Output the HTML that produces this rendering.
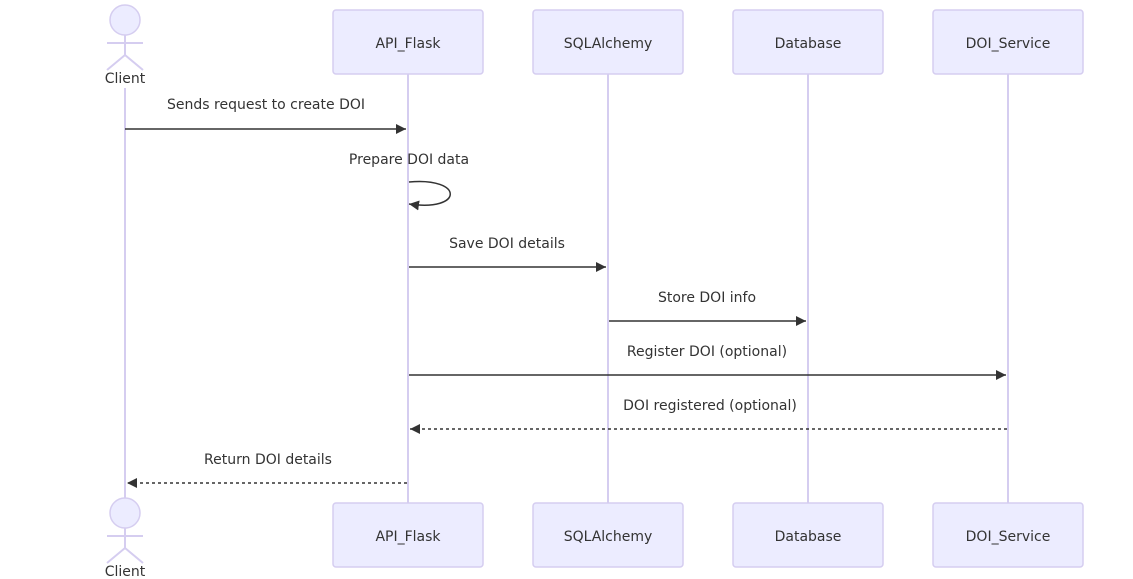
<!DOCTYPE html>
<html><head><style>body{margin:0;background:#fff}svg{display:block}text{font-family:"Trebuchet MS","DejaVu Sans","Liberation Sans",sans-serif;font-size:14px;fill:#333}</style></head>
<body>
<svg width="1133" height="579" viewBox="0 0 1133 579" xmlns="http://www.w3.org/2000/svg">
<defs>
<marker id="a" markerWidth="12" markerHeight="12" refX="10" refY="5" orient="auto" markerUnits="userSpaceOnUse"><path d="M0,0 L10,5 L0,10 z" fill="#333"/></marker>
</defs>
<g stroke="#d5cdf0" stroke-width="2">
<line x1="125" y1="88" x2="125" y2="498"/>
<line x1="408" y1="74" x2="408" y2="503"/>
<line x1="608" y1="74" x2="608" y2="503"/>
<line x1="808" y1="74" x2="808" y2="503"/>
<line x1="1008" y1="74" x2="1008" y2="503"/>
</g>
<g fill="#ECECFF" stroke="#d5cdf0" stroke-width="1.5">
<rect x="333" y="10" width="150" height="64" rx="3"/><rect x="533" y="10" width="150" height="64" rx="3"/><rect x="733" y="10" width="150" height="64" rx="3"/><rect x="933" y="10" width="150" height="64" rx="3"/>
<rect x="333" y="503" width="150" height="64" rx="3"/><rect x="533" y="503" width="150" height="64" rx="3"/><rect x="733" y="503" width="150" height="64" rx="3"/><rect x="933" y="503" width="150" height="64" rx="3"/>
<circle cx="125" cy="20" r="15"/><circle cx="125" cy="513" r="15"/>
</g>
<g stroke="#d5cdf0" stroke-width="2" fill="none">
<path d="M125,35 V55 M107,43 H143 M107,70 L125,55 L143,70"/>
<path d="M125,528 V548 M107,536 H143 M107,563 L125,548 L143,563"/>
</g>
<g text-anchor="middle">
<text x="125" y="83">Client</text><text x="125" y="576">Client</text>
<text x="408" y="48">API_Flask</text><text x="608" y="48">SQLAlchemy</text><text x="808" y="48">Database</text><text x="1008" y="48">DOI_Service</text>
<text x="408" y="541">API_Flask</text><text x="608" y="541">SQLAlchemy</text><text x="808" y="541">Database</text><text x="1008" y="541">DOI_Service</text>
<text x="266" y="109">Sends request to create DOI</text>
<text x="409" y="164">Prepare DOI data</text>
<text x="507" y="248">Save DOI details</text>
<text x="707" y="302">Store DOI info</text>
<text x="707" y="356">Register DOI (optional)</text>
<text x="710" y="410">DOI registered (optional)</text>
<text x="268" y="464">Return DOI details</text>
</g>
<g stroke="#333" stroke-width="1.5" fill="none">
<line x1="125" y1="129" x2="406" y2="129" marker-end="url(#a)"/>
<path d="M409,182 C464,177 464,212 409,204" marker-end="url(#a)"/>
<line x1="409" y1="267" x2="606" y2="267" marker-end="url(#a)"/>
<line x1="609" y1="321" x2="806" y2="321" marker-end="url(#a)"/>
<line x1="409" y1="375" x2="1006" y2="375" marker-end="url(#a)"/>
<line x1="1007" y1="429" x2="410" y2="429" stroke-dasharray="3,3" marker-end="url(#a)"/>
<line x1="407" y1="483" x2="127" y2="483" stroke-dasharray="3,3" marker-end="url(#a)"/>
</g>
</svg>
</body></html>
